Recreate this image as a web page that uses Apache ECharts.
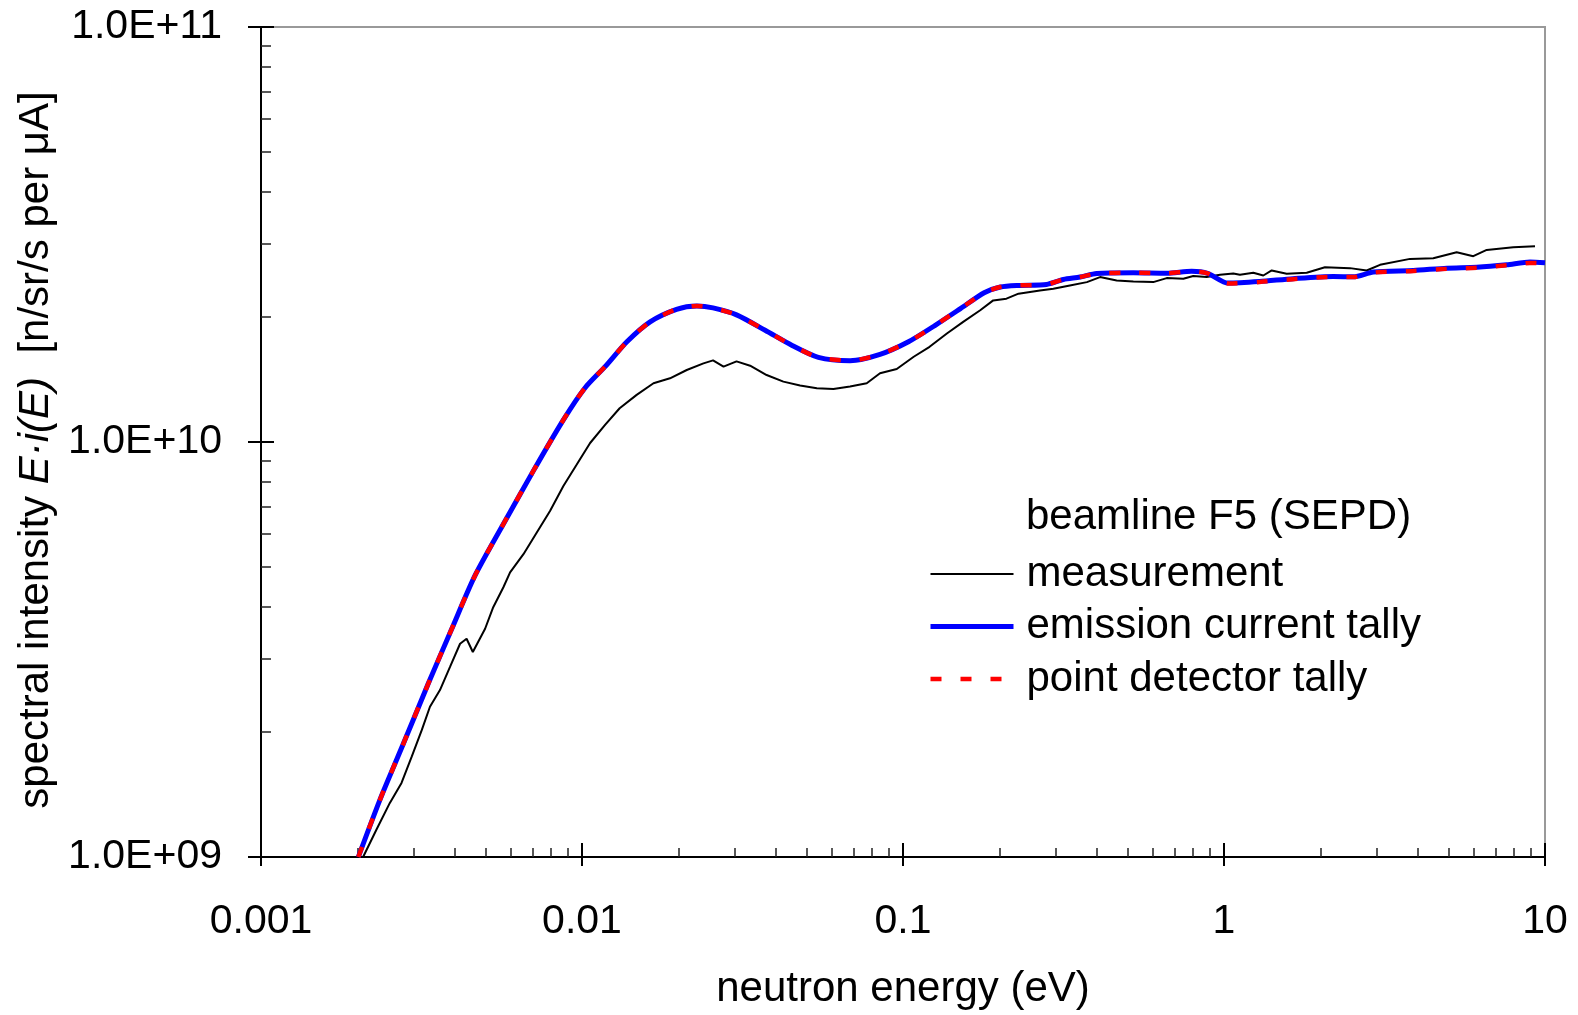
<!DOCTYPE html>
<html>
<head>
<meta charset="utf-8">
<script src="https://cdn.jsdelivr.net/npm/echarts@6/dist/echarts.min.js"></script>
<style>
html,body{margin:0;padding:0;background:#fff;}
#chart{width:1578px;height:1015px;}
</style>
</head>
<body>
<div id="chart"></div>
<script>
// ---------------- data ----------------
const measEnergy = [0.00208,0.00229,0.00252,0.00274,0.00295,0.00317,0.00336,0.00361,0.00388,0.00417,
  0.00437,0.00457,0.00499,0.00529,0.00569,0.00597,0.00657,0.00723,0.00795,0.00875,
  0.00963,0.0106,0.0118,0.0131,0.0148,0.0167,0.0188,0.0212,0.0239,0.0256,
  0.0276,0.0303,0.0334,0.0376,0.0424,0.0478,0.0539,0.0607,0.0684,0.0771,
  0.0848,0.0956,0.108,0.121,0.137,0.154,0.174,0.191,0.210,0.229,
  0.267,0.294,0.331,0.374,0.411,0.463,0.522,0.602,0.663,0.747,
  0.802,0.883,0.972,1.069,1.121,1.234,1.326,1.408,1.568,1.810,
  2.063,2.469,2.783,3.062,3.797,4.487,5.307,5.979,6.582,7.965,9.307];
const measIntensity = [1.0e9,1.165e9,1.350e9,1.508e9,1.747e9,2.024e9,2.302e9,2.525e9,2.871e9,3.265e9,
  3.357e9,3.119e9,3.548e9,3.999e9,4.466e9,4.852e9,5.366e9,6.050e9,6.820e9,7.832e9,
  8.823e9,9.945e9,1.100e10,1.206e10,1.299e10,1.385e10,1.424e10,1.491e10,1.547e10,1.573e10,
  1.519e10,1.564e10,1.527e10,1.450e10,1.398e10,1.368e10,1.348e10,1.342e10,1.360e10,1.385e10,
  1.464e10,1.499e10,1.605e10,1.696e10,1.826e10,1.948e10,2.077e10,2.194e10,2.215e10,2.277e10,
  2.319e10,2.341e10,2.384e10,2.428e10,2.497e10,2.450e10,2.436e10,2.428e10,2.483e10,2.474e10,
  2.511e10,2.497e10,2.529e10,2.547e10,2.529e10,2.557e10,2.519e10,2.590e10,2.543e10,2.557e10,
  2.638e10,2.624e10,2.590e10,2.673e10,2.762e10,2.773e10,2.866e10,2.804e10,2.903e10,2.947e10,2.963e10];

const modelEnergy = [0.00201,0.00235,0.00278,0.00332,0.00393,0.00464,0.00576,0.00714,0.00875,0.0102,
  0.0118,0.0138,0.0163,0.0197,0.0228,0.0256,0.0303,0.0372,0.0450,0.0545,
  0.0684,0.0848,0.104,0.126,0.151,0.179,0.201,0.229,0.280,0.316,
  0.356,0.401,0.522,0.663,0.793,0.889,1.03,1.29,1.64,2.19,
  2.53,2.92,3.89,4.94,6.13,7.60,8.98,10];
const emissionIntensity = [1.0e9,1.377e9,1.879e9,2.618e9,3.548e9,4.763e9,6.451e9,8.662e9,1.131e10,1.348e10,
  1.519e10,1.744e10,1.948e10,2.088e10,2.127e10,2.104e10,2.024e10,1.859e10,1.711e10,1.599e10,
  1.570e10,1.626e10,1.744e10,1.911e10,2.096e10,2.289e10,2.363e10,2.384e10,2.397e10,2.464e10,
  2.497e10,2.547e10,2.557e10,2.550e10,2.578e10,2.550e10,2.415e10,2.436e10,2.474e10,2.505e10,
  2.501e10,2.567e10,2.590e10,2.624e10,2.638e10,2.673e10,2.713e10,2.703e10];
const pointIntensity = [1.0e9,1.377e9,1.879e9,2.618e9,3.548e9,4.763e9,6.451e9,8.662e9,1.131e10,1.348e10,
  1.519e10,1.744e10,1.948e10,2.088e10,2.127e10,2.104e10,2.024e10,1.859e10,1.711e10,1.599e10,
  1.570e10,1.626e10,1.744e10,1.911e10,2.096e10,2.289e10,2.363e10,2.384e10,2.397e10,2.464e10,
  2.497e10,2.547e10,2.557e10,2.550e10,2.578e10,2.550e10,2.410e10,2.430e10,2.468e10,2.500e10,
  2.497e10,2.560e10,2.583e10,2.615e10,2.630e10,2.665e10,2.700e10,2.695e10];

const seriesNames = ['measurement','emission current tally','point detector tally'];
const legendTitle = 'beamline F5 (SEPD)';
const xTickLabels = ['0.001','0.01','0.1','1','10'];
const yTickLabels = ['1.0E+09','1.0E+10','1.0E+11'];
const minorMultipliers = [2,3,4,5,6,7,8,9];
const xName = 'neutron energy (eV)';

// ---------------- build ----------------
const FONT = "'Liberation Sans', Arial, sans-serif";
const zip = (a,b) => a.map((v,i)=>[v,b[i]]);
const xMinor = [], yMinor = [];
[-3,-2,-1,0].forEach(d => minorMultipliers.forEach(m => xMinor.push(d + Math.log10(m))));
[9,10].forEach(d => minorMultipliers.forEach(m => yMinor.push(d + Math.log10(m))));

const chart = echarts.init(document.getElementById('chart'), null, {renderer:'canvas'});
const hideAll = {axisLine:{show:false}, axisTick:{show:false}, axisLabel:{show:false}, splitLine:{show:false}};

chart.setOption({
  animation:false,
  backgroundColor:'#fff',
  grid:{left:261, top:27, width:1284, height:834, show:true, borderColor:'#999', borderWidth:2, backgroundColor:'transparent'},
  xAxis:[
    Object.assign({type:'log', logBase:10, min:0.001, max:10, show:false}, hideAll),
    {type:'value', min:-3, max:1, interval:1, position:'bottom',
      axisLine:{show:true, onZero:false, lineStyle:{color:'#000', width:2}},
      axisTick:{show:true, inside:true, length:14, lineStyle:{color:'#000', width:2}},
      axisLabel:{show:true, margin:44, fontSize:41, color:'#000', fontFamily:FONT, showMinLabel:true, showMaxLabel:true,
        formatter:v => xTickLabels[Math.round(v)+3]},
      splitLine:{show:false},
      name:xName, nameLocation:'middle', nameGap:111,
      nameTextStyle:{fontSize:42, color:'#000', fontFamily:FONT}},
    {type:'value', min:-3, max:1, interval:1, position:'bottom',
      axisLine:{show:false, onZero:false}, axisTick:{show:true, inside:false, length:9, lineStyle:{color:'#000', width:2}},
      axisLabel:{show:false}, splitLine:{show:false}},
    {type:'value', min:-3, max:1, position:'bottom',
      axisLine:{show:false, onZero:false}, axisTick:{show:true, inside:true, length:9, customValues:xMinor, lineStyle:{color:'#222', width:1.5}},
      axisLabel:{show:false}, splitLine:{show:false}}
  ],
  yAxis:[
    Object.assign({type:'log', logBase:10, min:1e9, max:1e11, show:false}, hideAll),
    {type:'value', min:9, max:11, interval:1, position:'left',
      axisLine:{show:true, onZero:false, lineStyle:{color:'#000', width:2}},
      axisTick:{show:true, inside:true, length:13, lineStyle:{color:'#000', width:2}},
      axisLabel:{show:true, margin:39, fontSize:41, color:'#000', fontFamily:FONT, showMinLabel:true, showMaxLabel:true,
        formatter:v => yTickLabels[Math.round(v)-9]},
      splitLine:{show:false},
      name:'{a|spectral intensity }{b|E·i(E)}{a|  [n/sr/s per μA]}', nameLocation:'middle', nameGap:203, nameRotate:90,
      nameTextStyle:{color:'#000', padding:[0,16,0,0], rich:{
        a:{fontSize:42, fontFamily:FONT, color:'#000'},
        b:{fontSize:42, fontFamily:FONT, color:'#000', fontStyle:'italic'}}}},
    {type:'value', min:9, max:11, interval:1, position:'left',
      axisLine:{show:false, onZero:false}, axisTick:{show:true, inside:false, length:13, lineStyle:{color:'#000', width:2}},
      axisLabel:{show:false}, splitLine:{show:false}},
    {type:'value', min:9, max:11, position:'left',
      axisLine:{show:false, onZero:false}, axisTick:{show:true, inside:true, length:10, customValues:yMinor, lineStyle:{color:'#222', width:1.5}},
      axisLabel:{show:false}, splitLine:{show:false}}
  ],
  legend:{
    data:seriesNames, orient:'vertical', left:928, top:552, padding:0, itemWidth:83, itemHeight:14, itemGap:8.5,
    selectedMode:false,
    lineStyle:{width:'inherit', type:'inherit'},
    itemStyle:{opacity:0},
    textStyle:{fontSize:42, color:'#000', fontFamily:FONT, lineHeight:44, padding:[0,0,0,8]}
  },
  graphic:[{type:'text', left:1026, top:496, style:{text:legendTitle, fontSize:42, fontFamily:FONT, fill:'#000'}}],
  series:[
    {name:seriesNames[0], type:'line', xAxisIndex:0, yAxisIndex:0, data:zip(measEnergy, measIntensity),
      symbol:'none', lineStyle:{color:'#000', width:2}, itemStyle:{color:'#000'}, z:2, clip:true},
    {name:seriesNames[1], type:'line', xAxisIndex:0, yAxisIndex:0, data:zip(modelEnergy, emissionIntensity),
      symbol:'none', smooth:0.25, lineStyle:{color:'#0000ff', width:5}, itemStyle:{color:'#0000ff'}, z:3, clip:true},
    {name:seriesNames[2], type:'line', xAxisIndex:0, yAxisIndex:0, data:zip(modelEnergy, pointIntensity),
      symbol:'none', smooth:0.25, lineStyle:{color:'#ff0000', width:4.5, type:[11,19]}, itemStyle:{color:'#ff0000'}, z:4, clip:true}
  ]
});
</script>
</body>
</html>
